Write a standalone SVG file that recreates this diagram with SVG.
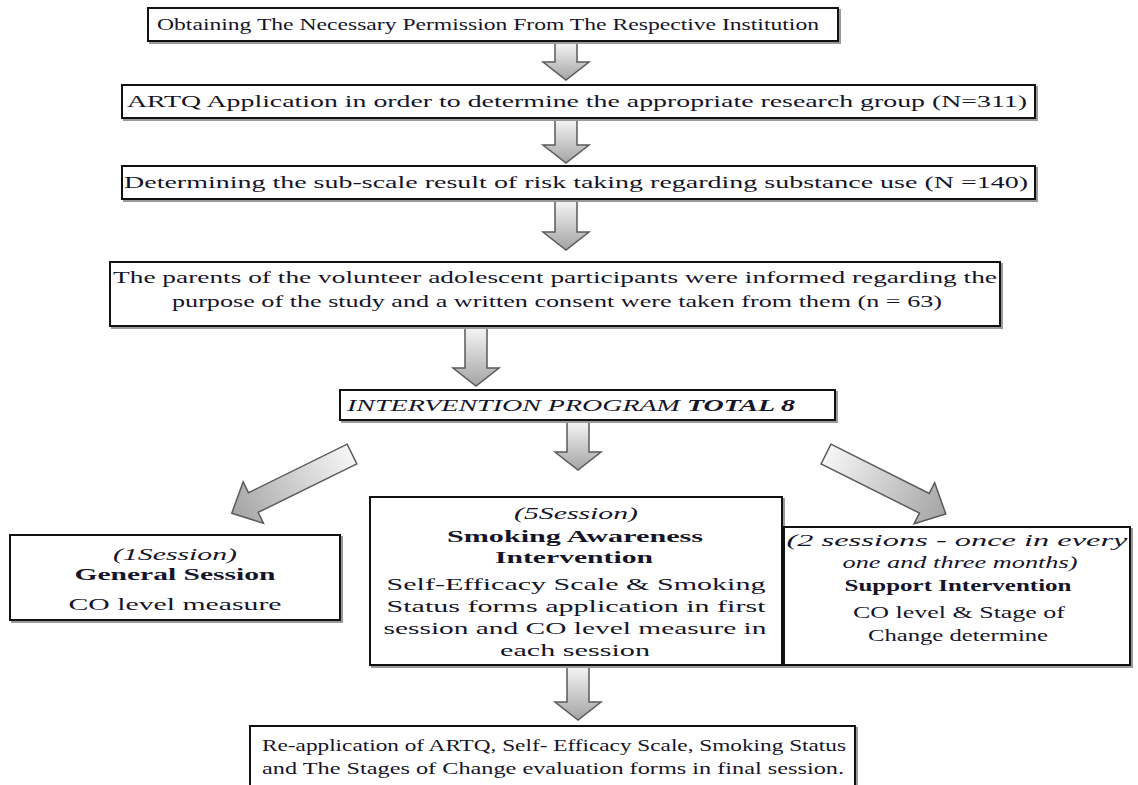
<svg xmlns="http://www.w3.org/2000/svg" width="1138" height="785" viewBox="0 0 1138 785">
<style>
.bg{fill:#fff}
.sh{fill:none;stroke:#9a9a9a;stroke-width:2}
.box{fill:#fff;stroke:#111;stroke-width:2}
.arr{stroke:#5a5a5a;stroke-width:1.5}
.dn{fill:url(#gv)}
.dg{fill:url(#gh)}
text{font-family:"Liberation Serif","Times New Roman",serif;font-size:17px;fill:#15152a;text-anchor:middle}
.it{font-style:italic}
.b{font-weight:bold}
</style>
<defs>
<linearGradient id="gv" x1="0" y1="0" x2="0" y2="1"><stop offset="0" stop-color="#f6f6f6"/><stop offset="1" stop-color="#a4a4a4"/></linearGradient>
<linearGradient id="gh" x1="0" y1="0" x2="1" y2="0"><stop offset="0" stop-color="#f6f6f6"/><stop offset="1" stop-color="#a4a4a4"/></linearGradient>
</defs>
<rect class="bg" width="1138" height="785"/>
<g id="connectors">
<polygon class="arr dn" points="555,42 577,42 577,62 589,62 566,80 543,62 555,62"/>
<polygon class="arr dn" points="555,119 577,119 577,145 589,145 566,163 543,145 555,145"/>
<polygon class="arr dn" points="555,200 577,200 577,232 589,232 566,250 543,232 555,232"/>
<polygon class="arr dn" points="465,327 487,327 487,368 499,368 476,386 453,368 465,368"/>
<polygon class="arr dn" points="567,421 589,421 589,452 601,452 578,470 555,452 567,452"/>
<polygon class="arr dn" points="567,666 589,666 589,702 601,702 578,720 555,702 567,702"/>
<polygon class="arr dg" transform="translate(352,454) rotate(153.8)" points="0,-11 110,-11 110,-23 134,0 110,23 110,11 0,11"/>
<polygon class="arr dg" transform="translate(826,454) rotate(26.6)" points="0,-11 110,-11 110,-23 134,0 110,23 110,11 0,11"/>
</g>
<g id="n1">
<rect class="sh" x="150" y="10" width="690" height="33"/>
<rect class="box" x="148" y="8" width="690" height="33"/>
<text x="488" y="30" textLength="662" lengthAdjust="spacingAndGlyphs">Obtaining The Necessary Permission From  The Respective Institution</text>
</g>
<g id="n2">
<rect class="sh" x="124" y="87" width="913" height="33"/>
<rect class="box" x="122" y="85" width="913" height="33"/>
<text x="577" y="107" textLength="900" lengthAdjust="spacingAndGlyphs">ARTQ Application in order to determine the appropriate research group (N=311)</text>
</g>
<g id="n3">
<rect class="sh" x="124" y="168" width="913" height="33"/>
<rect class="box" x="122" y="166" width="913" height="33"/>
<text x="576" y="188" textLength="904" lengthAdjust="spacingAndGlyphs">Determining the sub-scale result of  risk taking regarding substance use (N =140)</text>
</g>
<g id="n4">
<rect class="sh" x="112" y="264" width="890" height="64"/>
<rect class="box" x="110" y="262" width="890" height="64"/>
<text x="555" y="283" textLength="884" lengthAdjust="spacingAndGlyphs">The parents of the volunteer adolescent participants were informed regarding the</text>
<text x="557" y="307" textLength="770" lengthAdjust="spacingAndGlyphs">purpose of the study and a written consent were taken from them (n = 63)</text>
</g>
<g id="n5">
<rect class="sh" x="342" y="392" width="495" height="30"/>
<rect class="box" x="340" y="390" width="495" height="30"/>
<text class="it" x="571" y="411" textLength="448" lengthAdjust="spacingAndGlyphs">INTERVENTION PROGRAM <tspan class="b">TOTAL 8</tspan></text>
</g>
<g id="n6">
<rect class="sh" x="12" y="537" width="330" height="85"/>
<rect class="box" x="10" y="535" width="330" height="85"/>
<text class="it" x="175" y="560" textLength="124" lengthAdjust="spacingAndGlyphs">(1Session)</text>
<text class="b" x="175" y="580" textLength="201" lengthAdjust="spacingAndGlyphs">General Session</text>
<text x="175" y="610" textLength="213" lengthAdjust="spacingAndGlyphs">CO level measure</text>
</g>
<g id="n7">
<rect class="sh" x="372" y="499" width="412" height="168"/>
<rect class="box" x="370" y="497" width="412" height="168"/>
<text class="it" x="576" y="519" textLength="124" lengthAdjust="spacingAndGlyphs">(5Session)</text>
<text class="b" x="575" y="542" textLength="256" lengthAdjust="spacingAndGlyphs">Smoking Awareness</text>
<text class="b" x="574" y="563" textLength="158" lengthAdjust="spacingAndGlyphs">Intervention</text>
<text x="576" y="590" textLength="379" lengthAdjust="spacingAndGlyphs">Self-Efficacy Scale &amp; Smoking</text>
<text x="576" y="612" textLength="379" lengthAdjust="spacingAndGlyphs">Status forms application in first</text>
<text x="575" y="634" textLength="383" lengthAdjust="spacingAndGlyphs">session and CO level measure in</text>
<text x="575" y="656" textLength="150" lengthAdjust="spacingAndGlyphs">each session</text>
</g>
<g id="n8">
<rect class="sh" x="786" y="529" width="346" height="138"/>
<rect class="box" x="784" y="527" width="346" height="138"/>
<text class="it" x="957" y="546" textLength="341" lengthAdjust="spacingAndGlyphs">(2 sessions - once in every</text>
<text class="it" x="960" y="568" textLength="235" lengthAdjust="spacingAndGlyphs">one and three months)</text>
<text class="b" x="958" y="591" textLength="227" lengthAdjust="spacingAndGlyphs">Support Intervention</text>
<text x="959" y="618" textLength="212" lengthAdjust="spacingAndGlyphs">CO level &amp; Stage of</text>
<text x="958" y="641" textLength="180" lengthAdjust="spacingAndGlyphs">Change determine</text>
</g>
<g id="n9">
<rect class="sh" x="252" y="728" width="605" height="80"/>
<rect class="box" x="250" y="726" width="605" height="80"/>
<text x="554" y="751" textLength="584" lengthAdjust="spacingAndGlyphs">Re-application of ARTQ, Self- Efficacy Scale, Smoking Status</text>
<text x="553" y="774" textLength="582" lengthAdjust="spacingAndGlyphs">and The Stages of Change evaluation forms in final session.</text>
</g>
</svg>
